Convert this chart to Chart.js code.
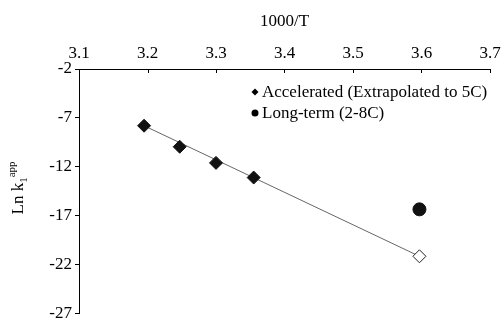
<!DOCTYPE html>
<html>
<head>
<meta charset="utf-8">
<script src="https://cdn.jsdelivr.net/npm/chart.js@4"></script>
<style>
  html, body { margin: 0; padding: 0; background: #fff; }
  #wrap { width: 501px; height: 321px; }
</style>
</head>
<body>
<div id="wrap"><canvas id="arrhenius"></canvas></div>
<script>
// values
const accelX = [3.195, 3.247, 3.300, 3.355];
const accelY = [-7.8, -9.95, -11.6, -13.1];
const extrapX = [3.597];
const extrapY = [-21.15];
const longX = [3.597];
const longY = [-16.35];
const fitX = [3.195, 3.597];
const fitY = [-7.8, -21.15];
const xTicks = [3.1, 3.2, 3.3, 3.4, 3.5, 3.6, 3.7];
const yTicks = [-2, -7, -12, -17, -22, -27];
const legendLabels = ['Accelerated (Extrapolated to 5C)', 'Long-term (2-8C)'];

const serif = '"Liberation Serif", "Times New Roman", serif';
const fs = 17;
const toPts = (xs, ys) => xs.map((x, i) => ({x: x, y: ys[i]}));

// inside tick marks on the top axis, y axis title with sub/superscript, legend
const extras = {
  id: 'extras',
  afterDraw(chart) {
    const ctx = chart.ctx;
    const xs = chart.scales.x;
    const top = chart.chartArea.top;
    ctx.save();
    ctx.strokeStyle = '#000';
    ctx.lineWidth = 1;
    xTicks.forEach(v => {
      const px = Math.round(xs.getPixelForValue(v)) + 0.5;
      ctx.beginPath();
      ctx.moveTo(px, top);
      ctx.lineTo(px, top + 4);
      ctx.stroke();
    });

    // y title
    const cy = 188;
    ctx.translate(19, cy);
    ctx.rotate(-Math.PI / 2);
    ctx.fillStyle = '#000';
    ctx.textBaseline = 'middle';
    const main = 'Ln k';
    ctx.font = fs + 'px ' + serif;
    const w1 = ctx.measureText(main).width;
    ctx.font = '11px ' + serif;
    const w2 = ctx.measureText('1').width;
    const w3 = ctx.measureText('app').width;
    const x0 = -(w1 + w2 + w3) / 2;
    ctx.font = fs + 'px ' + serif;
    ctx.fillText(main, x0, 0);
    ctx.font = '11px ' + serif;
    ctx.fillText('1', x0 + w1, 5);
    ctx.fillText('app', x0 + w1 + w2, -7);
    ctx.restore();

    // legend
    ctx.save();
    ctx.fillStyle = '#000';
    ctx.font = fs + 'px ' + serif;
    ctx.textBaseline = 'middle';
    const lx = 255, ly = [92, 113];
    ctx.beginPath();
    ctx.moveTo(lx - 3.5, ly[0]);
    ctx.lineTo(lx, ly[0] - 3.5);
    ctx.lineTo(lx + 3.5, ly[0]);
    ctx.lineTo(lx, ly[0] + 3.5);
    ctx.closePath();
    ctx.fill();
    ctx.beginPath();
    ctx.arc(lx, ly[1], 3.5, 0, Math.PI * 2);
    ctx.fill();
    ctx.fillText(legendLabels[0], lx + 7, ly[0] + 1);
    ctx.fillText(legendLabels[1], lx + 7, ly[1] + 1);
    ctx.restore();
  }
};

new Chart(document.getElementById('arrhenius'), {
  type: 'scatter',
  data: {
    datasets: [
      {label: legendLabels[0], data: toPts(accelX, accelY), pointStyle: 'rectRot', pointRadius: 6.5,
       backgroundColor: '#111', borderColor: '#111', borderWidth: 1, order: 1},
      {label: 'Extrapolated', data: toPts(extrapX, extrapY), pointStyle: 'rectRot', pointRadius: 6.5,
       backgroundColor: '#fff', borderColor: '#222', borderWidth: 1, order: 1},
      {label: legendLabels[1], data: toPts(longX, longY), pointStyle: 'circle', pointRadius: 6.5,
       backgroundColor: '#111', borderColor: '#111', borderWidth: 1, order: 1},
      {label: 'fit', data: toPts(fitX, fitY), showLine: true, pointRadius: 0,
       borderColor: '#666', borderWidth: 1, order: 5}
    ]
  },
  options: {
    responsive: true,
    maintainAspectRatio: false,
    animation: false,
    events: [],
    layout: {padding: {left: 0, right: 11, top: 0, bottom: 4.5}},
    plugins: {legend: {display: false}, tooltip: {enabled: false}},
    scales: {
      x: {
        type: 'linear', position: 'top', min: 3.1, max: 3.7,
        afterBuildTicks: s => { s.ticks = xTicks.map(v => ({value: v})); },
        afterFit: s => { s.height = 69; s.paddingLeft = 0; s.paddingRight = 0; },
        grid: {display: true, drawOnChartArea: false, drawTicks: false},
        border: {color: '#000', width: 1},
        ticks: {color: '#000', padding: 5, maxRotation: 0, font: {family: serif, size: fs},
                callback: v => v.toFixed(1)},
        title: {display: true, text: '1000/T', color: '#000', padding: {top: 11, bottom: 0},
                font: {family: serif, size: fs}}
      },
      y: {
        type: 'linear', min: -27, max: -2,
        afterBuildTicks: s => { s.ticks = yTicks.map(v => ({value: v})); },
        afterFit: s => { s.width = 79; s.paddingTop = 0; s.paddingBottom = 0; },
        grid: {display: true, drawOnChartArea: false, tickLength: 4, color: '#000'},
        border: {color: '#000', width: 1},
        ticks: {color: '#000', padding: 3, font: {family: serif, size: fs, lineHeight: 0.6}}
      }
    }
  },
  plugins: [extras]
});
</script>
</body>
</html>
